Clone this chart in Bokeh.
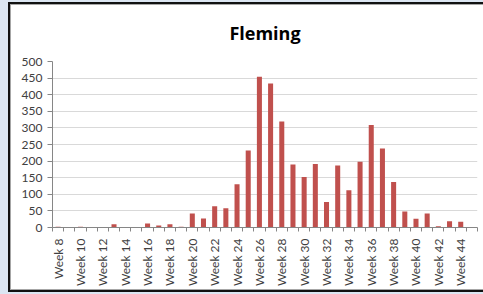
import math
from bokeh.plotting import figure
from bokeh.models import Range1d, FixedTicker
from bokeh.embed import file_html
from bokeh.resources import INLINE

title = "Fleming"
weeks = list(range(8, 46))
cases = [2, 0, 2, 0, 0, 10, 0, 0, 12, 6, 10, 2, 42, 27, 64, 58, 130, 232,
         454, 434, 319, 190, 152, 191, 77, 187, 112, 198, 309, 238, 137,
         48, 26, 42, 4, 19, 17, 1]
label_weeks = list(range(8, 46, 2))
y_ticks = list(range(0, 501, 50))

p = figure(width=472, height=284, output_backend="svg", toolbar_location=None,
           x_range=Range1d(7.5, 45.5), y_range=Range1d(0, 500),
           min_border_left=41, min_border_right=6, min_border_top=55,
           min_border_bottom=60)
p.stylesheets = [":host { margin: 5px 0 0 11px; box-shadow: 0 0 0 1px #a6a6a6, 0 0 0 3px #111111, 0 0 0 20px #dce6f2; }"]

p.title.text = title
p.title.align = "center"
p.title.vertical_align = "top"
p.title.text_font = "Open Sans"
p.title.text_font_size = "18px"
p.title.text_font_style = "bold"
p.title.text_color = "#000000"
p.title.standoff = 30

p.vbar(x=weeks, top=cases, width=0.45, fill_color="#c0504d", line_color=None)

p.outline_line_color = None
p.background_fill_color = "white"
p.border_fill_color = "white"

p.xgrid.grid_line_color = None
p.ygrid.grid_line_color = "#d9d9d9"
p.ygrid.grid_line_width = 1
p.yaxis.ticker = FixedTicker(ticks=y_ticks)
p.xaxis.ticker = FixedTicker(ticks=label_weeks, minor_ticks=[w - 0.5 for w in weeks] + [weeks[-1] + 0.5])
p.xaxis.major_label_overrides = {w: f"Week {w}" for w in label_weeks}
p.xaxis.major_label_orientation = math.pi / 2

for ax in (p.xaxis, p.yaxis):
    ax.axis_line_color = "#868686"
    ax.major_label_text_font = "Lato"
    ax.major_label_text_font_size = "12px"
    ax.major_label_text_color = "#404040"

p.xaxis.major_tick_line_color = None
p.xaxis.major_tick_out = 0
p.xaxis.major_tick_in = 0
p.xaxis.minor_tick_line_color = "#868686"
p.xaxis.minor_tick_out = 4
p.xaxis.minor_tick_in = 0
p.xaxis.major_label_standoff = 7

p.yaxis.major_tick_line_color = "#868686"
p.yaxis.major_tick_out = 5
p.yaxis.major_tick_in = 0
p.yaxis.minor_tick_line_color = None
p.yaxis.major_label_standoff = 5

open("out.html", "w").write(file_html(p, INLINE))
